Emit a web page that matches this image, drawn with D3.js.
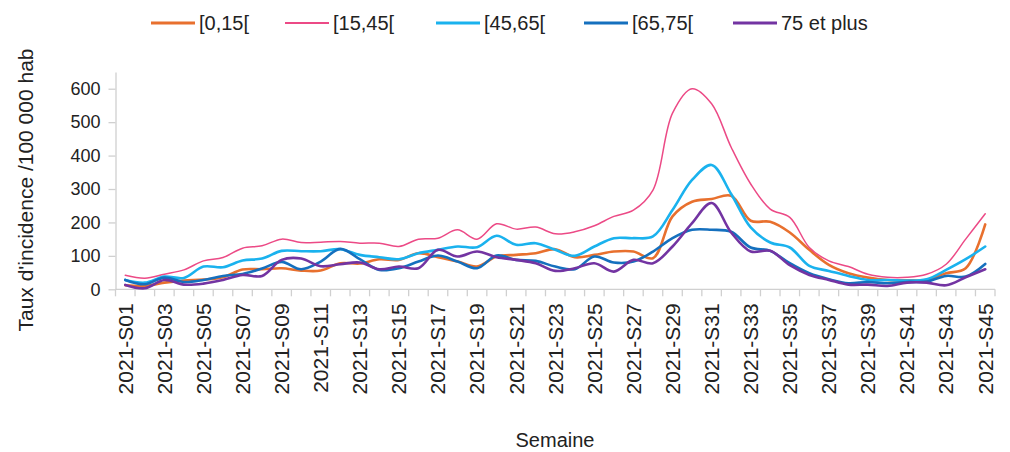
<!DOCTYPE html>
<html>
<head>
<meta charset="utf-8">
<script src="https://cdn.jsdelivr.net/npm/d3@7"></script>
<style>
    body { margin: 0; background: #fff; }
    text { font-family: "Liberation Sans", Arial, sans-serif; fill: #222; }
</style>
</head>
<body>
<svg class="chart"></svg>
<script>
var weeks = [];
for (var w = 1; w <= 45; w++) {
    weeks.push("2021-S" + (w < 10 ? "0" + w : w));
}

var seriesNames = ["[0,15[", "[15,45[", "[45,65[", "[65,75[", "75 et plus"];
var seriesColors = ["#E8702E", "#EC4A86", "#1AB2EE", "#1570BE", "#7334A2"];
var seriesWidths = [2.6, 1.5, 2.6, 2.6, 2.6];

var age0_15 = [12, 10, 20, 26, 29, 36, 59, 60, 63, 56, 56, 78, 77, 90, 88, 108, 96, 83, 68, 98,
    103, 108, 120, 96, 103, 113, 113, 93, 218, 262, 270, 280, 205, 202, 170, 118, 73, 48, 35, 28,
    27, 28, 48, 63, 194];
var age15_45 = [42, 33, 45, 58, 85, 95, 123, 130, 150, 140, 141, 143, 138, 138, 128, 150, 153, 178, 150, 196,
    180, 186, 166, 172, 190, 218, 237, 297, 527, 600, 555, 425, 315, 240, 215, 125, 85, 68, 45, 36,
    36, 45, 75, 150, 226];
var age45_65 = [28, 20, 38, 34, 68, 66, 86, 92, 115, 114, 114, 120, 103, 96, 90, 108, 118, 128, 126, 160,
    133, 138, 118, 100, 128, 153, 153, 158, 237, 327, 372, 285, 185, 140, 125, 70, 55, 40, 28, 28,
    26, 30, 58, 90, 128];
var age65_75 = [28, 15, 35, 22, 28, 40, 46, 62, 82, 60, 83, 121, 90, 58, 63, 83, 101, 83, 63, 101,
    88, 85, 68, 60, 98, 80, 83, 113, 153, 178, 178, 172, 125, 115, 78, 48, 30, 18, 22, 18,
    22, 23, 40, 38, 76];
var age75plus = [13, 3, 28, 14, 17, 28, 43, 40, 88, 92, 69, 75, 80, 60, 68, 63, 118, 98, 113, 96,
    88, 78, 55, 63, 78, 53, 88, 78, 128, 198, 258, 170, 113, 115, 72, 43, 28, 14, 14, 10,
    20, 20, 12, 36, 60];

var yTicks = [0, 100, 200, 300, 400, 500, 600];

var seriesValues = [age0_15, age15_45, age45_65, age65_75, age75plus];

var outerSize = {width: 1010, height: 452};
var plot = {left: 115.5, right: 995, top: 72, bottom: 289.3};

var svg = d3.select(".chart")
        .attr("width", outerSize.width)
        .attr("height", outerSize.height);

var xRange = d3.scaleBand()
        .domain(weeks)
        .range([plot.left, plot.right])
        .padding(0);
var yRange = d3.scaleLinear()
        .domain([0, 650])
        .range([plot.bottom, plot.top]);

// y axis
var yAxis = svg.append("g")
        .attr("transform", "translate(" + plot.left + ",0)")
        .call(d3.axisLeft(yRange).tickValues(yTicks).tickSize(7).tickPadding(8).tickSizeOuter(0));
yAxis.select(".domain").attr("stroke", "#D0D0D0").attr("stroke-width", 1.3);
yAxis.selectAll(".tick line").attr("stroke", "#D0D0D0").attr("stroke-width", 1.3);
yAxis.selectAll(".tick text")
        .style("font-size", "18px")
        .style("font-family", "'Liberation Sans', Arial, sans-serif")
        .attr("fill", "#222");

// x axis line + ticks between categories
var xAxisG = svg.append("g");
xAxisG.append("line")
        .attr("x1", plot.left).attr("x2", plot.right)
        .attr("y1", plot.bottom).attr("y2", plot.bottom)
        .attr("stroke", "#D0D0D0").attr("stroke-width", 1.3);
var boundaries = weeks.map(function (wk) { return xRange(wk); }).concat([plot.right]);
xAxisG.selectAll(".xtick")
        .data(boundaries)
        .enter().append("line")
        .attr("class", "xtick")
        .attr("x1", function (d) { return d; })
        .attr("x2", function (d) { return d; })
        .attr("y1", plot.bottom)
        .attr("y2", plot.bottom + 7)
        .attr("stroke", "#D0D0D0").attr("stroke-width", 1.3);
xAxisG.selectAll(".xlabel")
        .data(weeks.filter(function (wk, i) { return i % 2 === 0; }))
        .enter().append("text")
        .attr("class", "xlabel")
        .attr("transform", function (wk) {
            return "translate(" + (xRange(wk) + xRange.bandwidth() / 2) + "," + (plot.bottom + 14) + ") rotate(-90)";
        })
        .attr("dy", "0.35em")
        .style("text-anchor", "end")
        .style("font-size", "21px")
        .text(function (wk) { return wk; });

// lines
var line = d3.line()
        .x(function (d, i) { return xRange(weeks[i]) + xRange.bandwidth() / 2; })
        .y(function (d) { return yRange(d); })
        .curve(d3.curveCatmullRom.alpha(0.5));

svg.selectAll(".series")
        .data(seriesValues)
        .enter().append("path")
        .attr("class", "series")
        .attr("d", function (vals) { return line(vals); })
        .attr("fill", "none")
        .attr("stroke", function (vals, i) { return seriesColors[i]; })
        .attr("stroke-width", function (vals, i) { return seriesWidths[i]; })
        .attr("stroke-linejoin", "round")
        .attr("stroke-linecap", "round");

// legend
var legendX = [151, 285, 436, 584, 733];
var legend = svg.selectAll(".legendItem")
        .data(seriesNames)
        .enter().append("g")
        .attr("class", "legendItem")
        .attr("transform", function (name, i) { return "translate(" + legendX[i] + ",23)"; });
legend.append("line")
        .attr("x1", 0).attr("x2", 44)
        .attr("y1", 0).attr("y2", 0)
        .attr("stroke", function (name, i) { return seriesColors[i]; })
        .attr("stroke-width", function (name, i) { return seriesWidths[i] + 0.4; });
legend.append("text")
        .attr("x", 48)
        .attr("dy", "0.35em")
        .style("font-size", "20px")
        .text(function (name) { return name; });

// axis titles
svg.append("text")
        .attr("transform", "translate(26," + 190 + ") rotate(-90)")
        .attr("dy", "0.35em")
        .style("text-anchor", "middle")
        .style("font-size", "21px")
        .text("Taux d'incidence /100 000 hab");
svg.append("text")
        .attr("x", 555)
        .attr("y", 440)
        .attr("dy", "0.35em")
        .style("text-anchor", "middle")
        .style("font-size", "20px")
        .text("Semaine");
</script>
</body>
</html>
